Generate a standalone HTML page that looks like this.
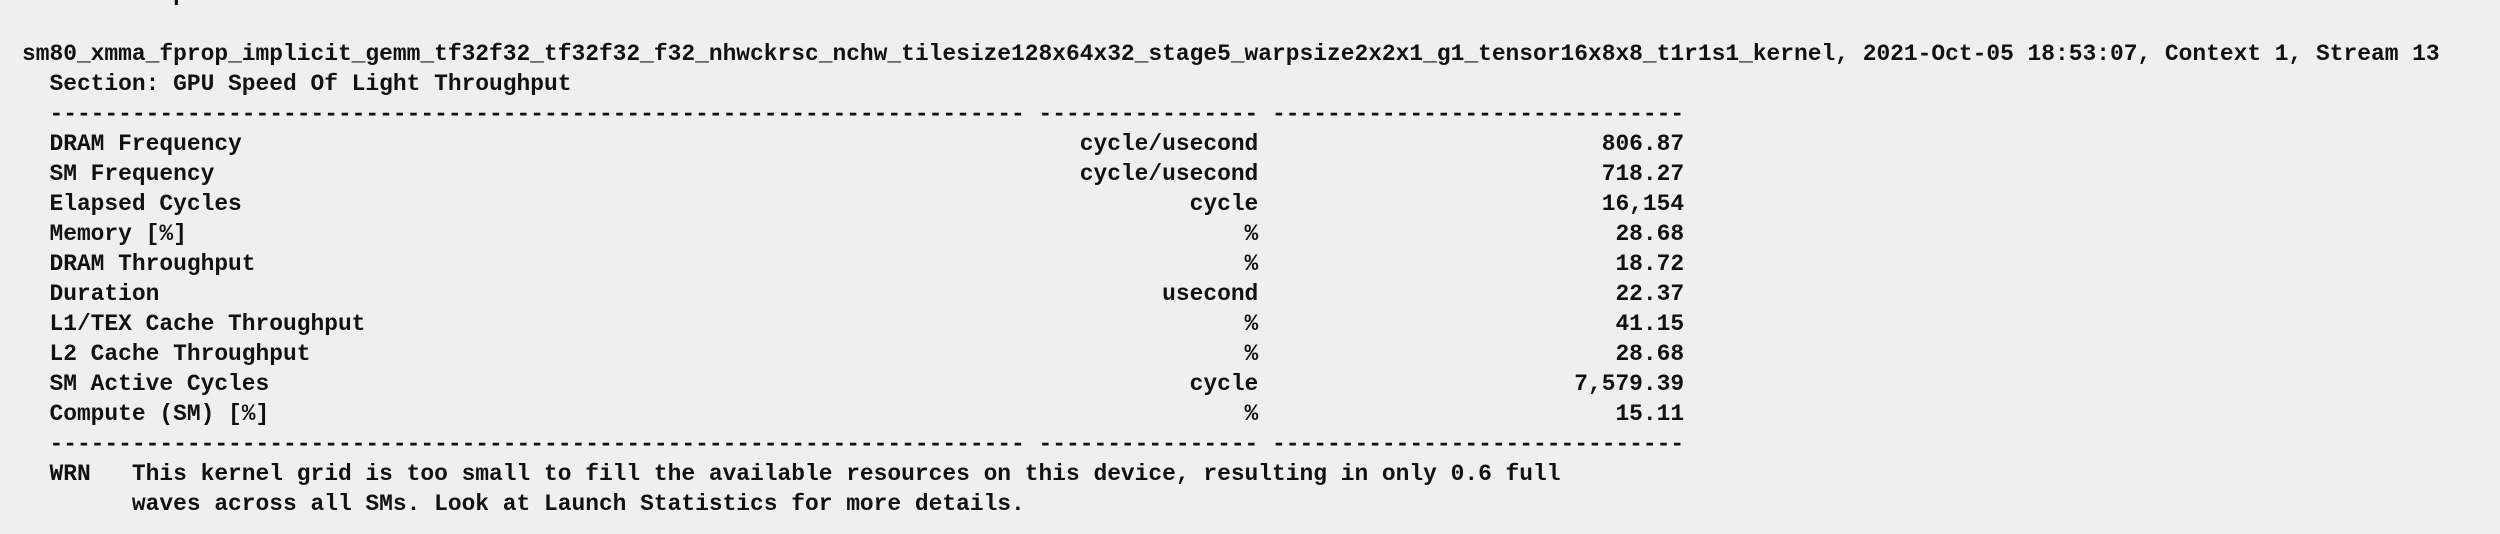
<!DOCTYPE html>
<html><head><meta charset="utf-8"><style>
html,body{margin:0;padding:0;background:#efefef;width:2500px;height:534px;overflow:hidden}
pre{position:absolute;left:22px;top:-21px;margin:0;font-family:"Liberation Mono","DejaVu Sans Mono",monospace;font-weight:bold;font-size:22.9px;line-height:30px;color:#111;white-space:pre}
</style></head><body><pre>        warps within a block as well as across blocks of the same kernel.

sm80_xmma_fprop_implicit_gemm_tf32f32_tf32f32_f32_nhwckrsc_nchw_tilesize128x64x32_stage5_warpsize2x2x1_g1_tensor16x8x8_t1r1s1_kernel, 2021-Oct-05 18:53:07, Context 1, Stream 13
  Section: GPU Speed Of Light Throughput
  ----------------------------------------------------------------------- ---------------- ------------------------------
  DRAM Frequency                                                             cycle/usecond                         806.87
  SM Frequency                                                               cycle/usecond                         718.27
  Elapsed Cycles                                                                     cycle                         16,154
  Memory [%]                                                                             %                          28.68
  DRAM Throughput                                                                        %                          18.72
  Duration                                                                         usecond                          22.37
  L1/TEX Cache Throughput                                                                %                          41.15
  L2 Cache Throughput                                                                    %                          28.68
  SM Active Cycles                                                                   cycle                       7,579.39
  Compute (SM) [%]                                                                       %                          15.11
  ----------------------------------------------------------------------- ---------------- ------------------------------
  WRN   This kernel grid is too small to fill the available resources on this device, resulting in only 0.6 full
        waves across all SMs. Look at Launch Statistics for more details.
</pre></body></html>
